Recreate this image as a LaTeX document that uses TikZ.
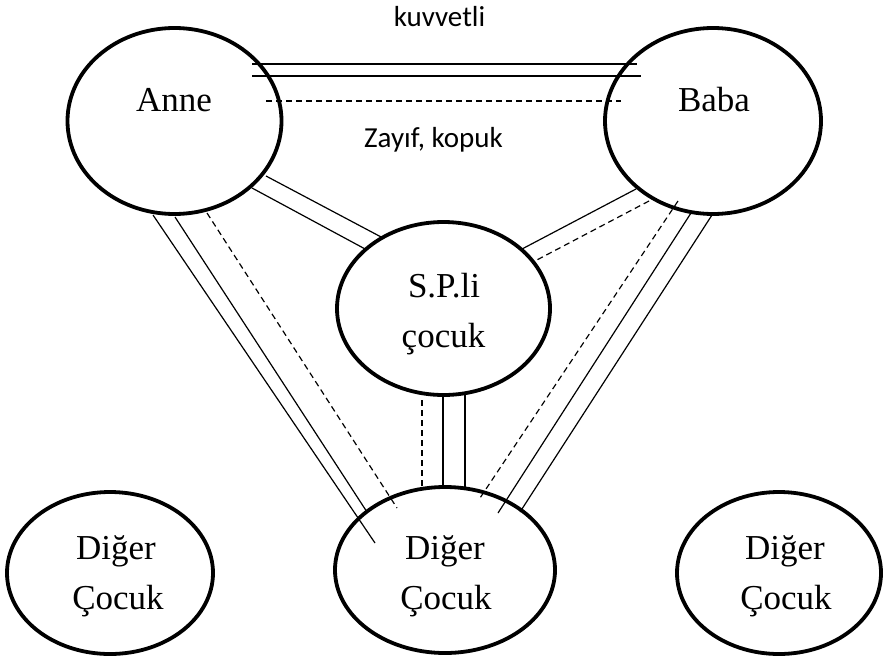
\documentclass[tikz,border=0pt]{standalone}
\usepackage{fontspec}
\setmainfont{Liberation Serif}
\newfontfamily\calib{Carlito}
\usetikzlibrary{shapes.geometric}
\begin{document}
\begin{tikzpicture}[x=1pt,y=-1pt,
  oval/.style={draw,ellipse,line width=3.8pt,inner sep=0pt},
  lbl/.style={anchor=base,inner sep=0pt,font=\fontsize{35}{42}\selectfont},
  note/.style={anchor=base,inner sep=0pt,font=\calib\fontsize{29}{35}\selectfont},
  tie/.style={line width=1.2pt},
  weak/.style={line width=1.2pt,dash pattern=on 6pt off 4pt}]
\useasboundingbox (0,0) rectangle (890,669);
% ovals
\node[oval,minimum width=214pt,minimum height=186pt] (anne) at (174.5,121) {};
\node[oval,minimum width=216pt,minimum height=186pt] (baba) at (713,121) {};
\node[oval,minimum width=213pt,minimum height=173pt] (sp) at (443.5,308.5) {};
\node[oval,minimum width=206pt,minimum height=162pt] (dl) at (110,573) {};
\node[oval,minimum width=220pt,minimum height=166pt] (dm) at (445,570) {};
\node[oval,minimum width=204pt,minimum height=162pt] (dr) at (779,573) {};
% texts
\node[lbl] (anneT) at (174,111) {Anne};
\node[lbl] (babaT) at (714,111) {Baba};
\node[lbl] (spT1) at (444,297) {S.P.li};
\node[lbl] (spT2) at (443.5,347) {çocuk};
\node[lbl] (dlT1) at (116,559) {Diğer};
\node[lbl] (dlT2) at (118,609) {Çocuk};
\node[lbl] (dmT1) at (445,559) {Diğer};
\node[lbl] (dmT2) at (446,609) {Çocuk};
\node[lbl] (drT1) at (785,559) {Diğer};
\node[lbl] (drT2) at (786,609) {Çocuk};
\node[note] (strong) at (439.5,27) {kuvvetli};
\node[note] (weakT) at (433.5,147) {Zayıf, kopuk};
% end points
\coordinate (ab1a) at (252,64);  \coordinate (ab1b) at (637,64);
\coordinate (ab2a) at (252,76);  \coordinate (ab2b) at (641,76);
\coordinate (ab3a) at (266,101); \coordinate (ab3b) at (621,101);
\coordinate (as1a) at (266,176); \coordinate (as1b) at (383,238);
\coordinate (as2a) at (252,188); \coordinate (as2b) at (367,250);
\coordinate (bs1a) at (636,189); \coordinate (bs1b) at (522,249);
\coordinate (bs2a) at (649,201); \coordinate (bs2b) at (533,262);
\coordinate (bd1a) at (678,201); \coordinate (bd1b) at (480,498);
\coordinate (bd2a) at (691,213); \coordinate (bd2b) at (498,513);
\coordinate (bd3a) at (712,215); \coordinate (bd3b) at (520,512);
\coordinate (sd1a) at (422,400); \coordinate (sd1b) at (422,488);
\coordinate (sd2a) at (443,395); \coordinate (sd2b) at (443,488);
\coordinate (sd3a) at (465,393); \coordinate (sd3b) at (465,489);
\coordinate (ad1a) at (153,215); \coordinate (ad1b) at (375,543);
\coordinate (ad2a) at (175,217); \coordinate (ad2b) at (367,512);
\coordinate (ad3a) at (207,213); \coordinate (ad3b) at (397,508);
% Anne - Baba
\draw[tie] (ab1a) -- (ab1b);
\draw[tie] (ab2a) -- (ab2b);
\draw[weak] (ab3a) -- (ab3b);
% Anne - S.P.li
\draw[tie] (as1a) -- (as1b);
\draw[tie] (as2a) -- (as2b);
% Baba - S.P.li
\draw[tie] (bs1a) -- (bs1b);
\draw[weak] (bs2a) -- (bs2b);
% Baba - Diger
\draw[weak] (bd1a) -- (bd1b);
\draw[tie] (bd2a) -- (bd2b);
\draw[tie] (bd3a) -- (bd3b);
% S.P.li - Diger
\draw[weak] (sd1a) -- (sd1b);
\draw[tie] (sd2a) -- (sd2b);
\draw[tie] (sd3a) -- (sd3b);
% Anne - Diger
\draw[tie] (ad1a) -- (ad1b);
\draw[tie] (ad2a) -- (ad2b);
\draw[weak] (ad3a) -- (ad3b);
\end{tikzpicture}
\end{document}
